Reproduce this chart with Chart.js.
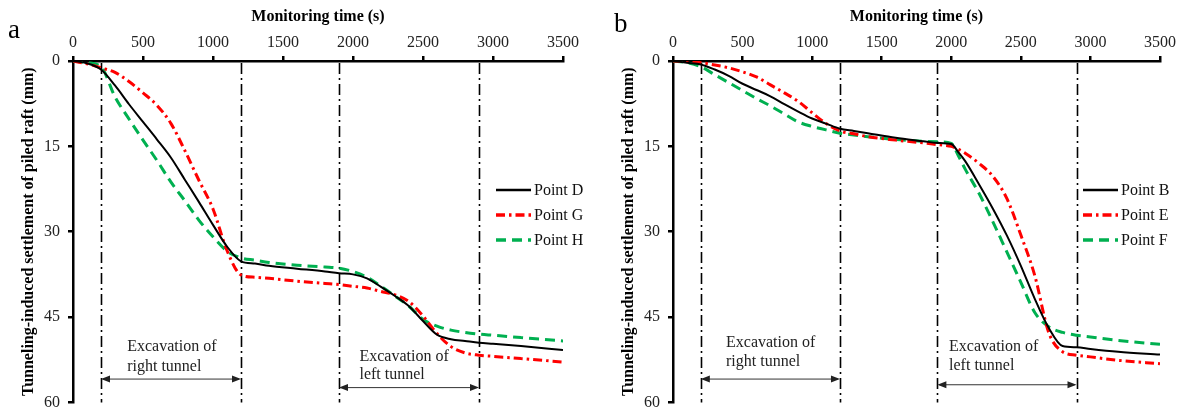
<!DOCTYPE html>
<html>
<head>
<meta charset="utf-8">
<script src="https://cdn.jsdelivr.net/npm/chart.js@4.4.1/dist/chart.umd.min.js"></script>
<style>
  html, body { margin: 0; padding: 0; background: #fff; }
  #wrap { position: relative; width: 1181px; height: 420px; overflow: hidden; }
  canvas { position: absolute; top: 0; }
  .tag { position: absolute; font-family: "Liberation Serif", "Times New Roman", serif; font-size: 27px; line-height: 1; color: #000; }
</style>
</head>
<body>
<div id="wrap">
  <canvas id="panelA" width="590" height="420" style="left:0"></canvas>
  <canvas id="panelB" width="581" height="420" style="left:600px"></canvas>
  <div class="tag" style="left:8px;top:16px">a</div>
  <div class="tag" style="left:614px;top:10px">b</div>
</div>
<script>
// values (time in s, settlement in mm)
const timeTicks = [0, 500, 1000, 1500, 2000, 2500, 3000, 3500];
const settlementTicks = [0, 15, 30, 45, 60];

const timeA = [0, 100, 200, 300, 400, 500, 600, 700, 800, 900, 1000, 1100, 1200, 1300, 1400, 1600, 1800, 1900,
  2000, 2100, 2200, 2300, 2400, 2500, 2600, 2700, 2800, 2900, 3000, 3200, 3500];
const pointD = [0, 0.4, 1.5, 4.3, 7.6, 10.7, 13.8, 17.0, 20.9, 24.8, 28.8, 32.6, 35.2, 35.6, 36.0, 36.5, 37.0, 37.3,
  37.5, 38.2, 39.7, 41.3, 43.1, 45.7, 48.1, 48.9, 49.2, 49.5, 49.7, 50.1, 50.8];
const pointG = [0, 0.5, 1.2, 2.0, 3.6, 5.6, 7.8, 11.0, 15.8, 21.0, 26.0, 33.3, 37.6, 38.0, 38.2, 38.7, 39.1, 39.3,
  39.6, 39.9, 40.5, 41.1, 42.3, 44.8, 47.9, 50.2, 51.3, 51.7, 51.9, 52.3, 52.9];
const pointH = [0, 0.3, 1.0, 6.3, 10.2, 13.9, 17.5, 21.3, 24.6, 28.0, 30.9, 33.4, 34.6, 35.0, 35.4, 35.9, 36.2, 36.4,
  37.0, 38.0, 39.6, 41.3, 43.1, 45.4, 46.6, 47.3, 47.7, 48.0, 48.2, 48.6, 49.2];

const timeB = [0, 100, 200, 300, 400, 500, 600, 700, 800, 900, 1000, 1100, 1200, 1300, 1400, 1600, 1800, 1900,
  2000, 2050, 2100, 2200, 2300, 2400, 2500, 2600, 2700, 2800, 2900, 3000, 3200, 3500];
const pointB = [0, 0.3, 0.6, 1.5, 2.6, 4.0, 5.1, 6.2, 7.6, 8.9, 10.1, 11.0, 11.9, 12.3, 12.7, 13.5, 14.1, 14.4,
  14.6, 16.0, 17.6, 21.7, 26.0, 30.7, 36.0, 41.8, 46.9, 50.1, 50.3, 50.6, 51.1, 51.6];
const pointE = [0, 0.1, 0.3, 0.7, 1.2, 1.9, 2.8, 4.2, 5.6, 7.1, 9.1, 11.0, 12.3, 12.8, 13.3, 13.9, 14.4, 14.7,
  15.0, 15.5, 16.2, 18.0, 20.3, 24.2, 30.6, 37.7, 47.7, 51.1, 51.7, 52.0, 52.6, 53.2];
const pointF = [0, 0.3, 1.0, 2.4, 3.8, 5.2, 6.6, 7.9, 9.3, 10.7, 11.5, 12.1, 12.7, 13.0, 13.3, 13.8, 14.1, 14.2,
  14.5, 16.6, 19.0, 23.3, 28.3, 33.6, 38.9, 44.2, 46.7, 47.7, 48.2, 48.5, 49.1, 49.8];

// excavation phases: start / end time
const phaseBounds = [[200, 1200], [1900, 2900]];
const phaseText = [['Excavation of', 'right tunnel'], ['Excavation of', 'left tunnel']];

const serif = '"Liberation Serif", "Times New Roman", serif';
const styles = {
  solid: { color: '#000000', width: 2, dash: [] },
  dashDot: { color: '#ff0000', width: 3, dash: [9, 4, 2.5, 4] },
  dashed: { color: '#00b050', width: 3, dash: [10, 6] }
};

function series(label, times, values, style) {
  return {
    label,
    data: times.map((t, i) => ({ x: t, y: values[i] })),
    borderColor: style.color,
    borderWidth: style.width,
    borderDash: style.dash,
    pointRadius: 0,
    fill: false,
    cubicInterpolationMode: 'monotone'
  };
}

function drawArrow(ctx, x0, x1, y) {
  const head = 9, half = 3.5;
  ctx.beginPath();
  ctx.moveTo(x0 + 2, y);
  ctx.lineTo(x1 - 2, y);
  ctx.stroke();
  ctx.beginPath();
  ctx.moveTo(x0, y); ctx.lineTo(x0 + head, y - half); ctx.lineTo(x0 + head, y + half); ctx.closePath();
  ctx.moveTo(x1, y); ctx.lineTo(x1 - head, y - half); ctx.lineTo(x1 - head, y + half); ctx.closePath();
  ctx.fill();
}

const decorPlugin = {
  id: 'decor',
  beforeDatasetsDraw(chart) {
    const { ctx, chartArea, scales: { x } } = chart;
    ctx.save();
    ctx.strokeStyle = '#000';
    ctx.lineWidth = 1.6;
    ctx.setLineDash([11, 4, 2, 4]);
    phaseBounds.flat().forEach(t => {
      const px = Math.round(x.getPixelForValue(t)) + 0.5;
      ctx.beginPath();
      ctx.moveTo(px, chartArea.top + 2);
      ctx.lineTo(px, chartArea.bottom);
      ctx.stroke();
    });
    ctx.restore();
  },
  afterDatasetsDraw(chart, args, opts) {
    const { ctx, scales: { x, y } } = chart;
    ctx.save();
    ctx.strokeStyle = '#333';
    ctx.fillStyle = '#222';
    ctx.lineWidth = 1;
    opts.notes.forEach((note, i) => {
      const [t0, t1] = phaseBounds[i];
      drawArrow(ctx, x.getPixelForValue(t0), x.getPixelForValue(t1), y.getPixelForValue(note.arrowAt));
      ctx.font = '16px ' + serif;
      ctx.textAlign = 'left';
      ctx.textBaseline = 'middle';
      phaseText[i].forEach((line, k) => {
        ctx.fillText(line, x.getPixelForValue(note.textAt), y.getPixelForValue(note.lineAt[k]));
      });
    });

    // legend inside the plot
    const lg = opts.legend;
    chart.data.datasets.forEach((ds, i) => {
      const ly = lg.y + i * lg.gap;
      ctx.strokeStyle = ds.borderColor;
      ctx.lineWidth = ds.borderWidth + 0.5;
      ctx.setLineDash(ds.borderDash);
      ctx.beginPath();
      ctx.moveTo(lg.x, ly);
      ctx.lineTo(lg.x + lg.len, ly);
      ctx.stroke();
      ctx.setLineDash([]);
      ctx.fillStyle = '#111';
      ctx.font = '16px ' + serif;
      ctx.textAlign = 'left';
      ctx.textBaseline = 'middle';
      ctx.fillText(ds.label, lg.x + lg.len + 3, ly + 1);
    });
    ctx.restore();
  }
};

function buildPanel(canvasId, datasets, padRight, decor) {
  return new Chart(document.getElementById(canvasId), {
    type: 'line',
    data: { datasets },
    plugins: [decorPlugin],
    options: {
      responsive: false,
      animation: false,
      devicePixelRatio: 1,
      layout: { padding: { left: 0, right: padRight, top: 0, bottom: 12 } },
      plugins: {
        legend: { display: false },
        tooltip: { enabled: false },
        decor
      },
      scales: {
        x: {
          type: 'linear',
          position: 'top',
          min: 0,
          max: 3500,
          afterBuildTicks: s => { s.ticks = timeTicks.map(v => ({ value: v })); },
          afterFit: s => { s.height = 61; },
          ticks: { color: '#222', font: { family: serif, size: 16 }, padding: 4, maxRotation: 0,
            callback: v => String(v) },
          grid: { drawOnChartArea: false, tickLength: 5, color: '#000', lineWidth: 2.5 },
          border: { color: '#000', width: 2.5 },
          title: { display: true, text: 'Monitoring time (s)', color: '#000',
            font: { family: serif, size: 16, weight: 'bold' }, padding: { top: 7, bottom: 0 } }
        },
        y: {
          type: 'linear',
          reverse: true,
          min: 0,
          max: 60,
          afterBuildTicks: s => { s.ticks = settlementTicks.map(v => ({ value: v })); },
          afterFit: s => { s.width = 73; },
          ticks: { color: '#222', font: { family: serif, size: 16 }, padding: 8,
            callback: v => String(v) },
          grid: { drawOnChartArea: false, tickLength: 5, color: '#000', lineWidth: 2.5 },
          border: { color: '#000', width: 2.5 },
          title: { display: true, text: 'Tunneling-induced settlement of piled raft (mm)', color: '#000',
            font: { family: serif, size: 16, weight: 'bold' }, padding: { top: 19, bottom: 0 } }
        }
      }
    }
  });
}

buildPanel('panelA', [
  series('Point D', timeA, pointD, styles.solid),
  series('Point G', timeA, pointG, styles.dashDot),
  series('Point H', timeA, pointH, styles.dashed)
], 27, {
  notes: [
    { textAt: 387, lineAt: [50.3, 53.8], arrowAt: 55.9 },
    { textAt: 2046, lineAt: [51.9, 55.2], arrowAt: 57.4 }
  ],
  legend: { x: 496, y: 190, gap: 25, len: 35 }
});

buildPanel('panelB', [
  series('Point B', timeB, pointB, styles.solid),
  series('Point E', timeB, pointE, styles.dashDot),
  series('Point F', timeB, pointF, styles.dashed)
], 21, {
  notes: [
    { textAt: 381, lineAt: [49.5, 52.8], arrowAt: 55.9 },
    { textAt: 1984, lineAt: [50.2, 53.5], arrowAt: 56.9 }
  ],
  legend: { x: 483, y: 190, gap: 25, len: 35 }
});
</script>
</body>
</html>
